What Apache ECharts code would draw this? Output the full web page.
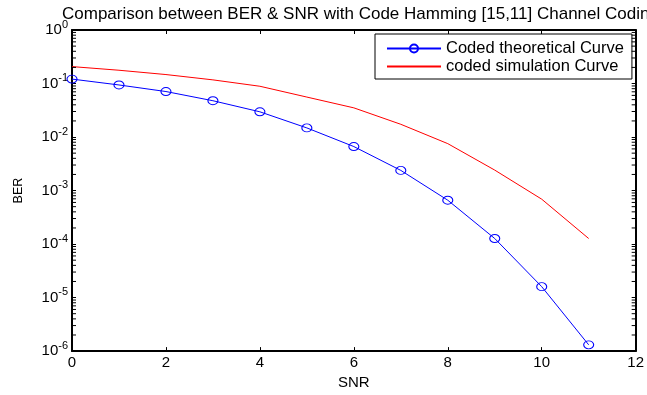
<!DOCTYPE html>
<html><head><meta charset="utf-8">
<script src="https://cdn.jsdelivr.net/npm/echarts@6/dist/echarts.min.js"></script>
<style>html,body{margin:0;padding:0;background:#fff}#c{width:647px;height:395px}</style>
</head><body><div id="c"></div>
<script>
const snr = [0, 1, 2, 3, 4, 5, 6, 7, 8, 9, 10, 11];
const berTheoretical = [0.121, 0.094, 0.0708, 0.0477, 0.0296, 0.0148, 0.00664, 0.00238, 0.00066, 0.000127, 0.000016, 0.00000131];
const berSimulation = [0.207, 0.177, 0.147, 0.117, 0.0889, 0.0558, 0.0351, 0.0173, 0.00753, 0.00241, 0.00069, 0.000127];
const xTickValues = [0, 2, 4, 6, 8, 10, 12];
const yDecadeExponents = [0, -1, -2, -3, -4, -5, -6];
const minorMantissas = [2, 3, 4, 5, 6, 7, 8, 9];
const seriesNames = ['Coded theoretical Curve', 'coded simulation Curve'];
const titleText = 'Comparison between BER & SNR with Code Hamming [15,11] Channel Coding';

const FONT = '"Liberation Sans", Arial, Helvetica, sans-serif';
const minorTicks = [];
yDecadeExponents.slice(1).forEach(e => minorMantissas.forEach(m => minorTicks.push([0, m * Math.pow(10, e)])));

const chart = echarts.init(document.getElementById('c'), null, {renderer: 'canvas'});

const yLabel = {
  margin: 4,
  color: '#000',
  fontFamily: FONT,
  formatter: v => '{b|10}{s|' + Math.round(Math.log10(v)) + '}',
  rich: {
    b: {fontSize: 15, lineHeight: 22, color: '#000', fontFamily: FONT},
    s: {fontSize: 11, lineHeight: 11, verticalAlign: 'top', color: '#000', fontFamily: FONT}
  }
};

function common() {
  return {
    axisLine: {show: true, onZero: false, lineStyle: {color: '#000', width: 2}},
    axisTick: {show: true, inside: true, length: 4, lineStyle: {color: '#000', width: 1}},
    splitLine: {show: false},
    minorTick: {show: false}
  };
}

chart.setOption({
  animation: false,
  backgroundColor: '#fff',
  title: {
    text: titleText, left: 62, top: 6, padding: 0,
    textStyle: {fontSize: 17, fontWeight: 'normal', color: '#000', fontFamily: FONT}
  },
  legend: {
    data: seriesNames, orient: 'vertical', left: 375, top: 34,
    itemWidth: 54, itemHeight: 10, itemGap: 1,
    padding: [6, 8, 4, 11],
    borderColor: '#000', borderWidth: 1, backgroundColor: '#fff',
    selectedMode: false,
    textStyle: {fontSize: 16.5, color: '#000', fontFamily: FONT}
  },
  grid: {left: 72, right: 8, top: 30, bottom: 38, containLabel: false},
  xAxis: [
    Object.assign(common(), {
      type: 'value', min: 0, max: 12, interval: 2, position: 'bottom',
      name: 'SNR', nameLocation: 'middle', nameGap: 19,
      nameTextStyle: {fontSize: 15, color: '#000', fontFamily: FONT},
      axisLabel: {margin: 4, fontSize: 15, color: '#000', fontFamily: FONT,
        formatter: v => xTickValues.indexOf(v) >= 0 ? String(v) : ''}
    }),
    Object.assign(common(), {
      type: 'value', min: 0, max: 12, interval: 2, position: 'top',
      axisLabel: {show: false}
    })
  ],
  yAxis: [
    Object.assign(common(), {
      type: 'log', logBase: 10, min: 1e-6, max: 1, splitNumber: 6, position: 'left',
      name: 'BER', nameLocation: 'middle', nameGap: 47,
      nameTextStyle: {fontSize: 12.5, color: '#000', fontFamily: FONT},
      axisLabel: yLabel
    }),
    Object.assign(common(), {
      type: 'log', logBase: 10, min: 1e-6, max: 1, splitNumber: 6, position: 'right',
      axisLabel: {show: false}
    })
  ],
  series: [
    {
      name: seriesNames[0], type: 'line', xAxisIndex: 0, yAxisIndex: 0,
      data: snr.map((x, i) => [x, berTheoretical[i]]),
      symbol: 'circle', symbolSize: [10, 8], showAllSymbol: true,
      itemStyle: {color: 'rgba(0,0,0,0)', borderColor: '#0000ff', borderWidth: 1},
      lineStyle: {color: '#0000ff', width: 1},
      emphasis: {disabled: true}, z: 3
    },
    {
      name: seriesNames[1], type: 'line', xAxisIndex: 0, yAxisIndex: 0,
      data: snr.map((x, i) => [x, berSimulation[i]]),
      symbol: 'none',
      itemStyle: {color: 'rgba(0,0,0,0)'},
      lineStyle: {color: '#ff0000', width: 1},
      emphasis: {disabled: true}, z: 2
    },
    {
      type: 'custom', xAxisIndex: 0, yAxisIndex: 0, silent: true, clip: false, z: 5,
      data: minorTicks,
      renderItem: function (params, api) {
        const v = api.value(1);
        const pl = api.coord([0, v]);
        const pr = api.coord([12, v]);
        const st = {stroke: '#000', lineWidth: 1};
        return {type: 'group', children: [
          {type: 'line', shape: {x1: pl[0], y1: pl[1], x2: pl[0] + 4, y2: pl[1]}, style: st},
          {type: 'line', shape: {x1: pr[0], y1: pr[1], x2: pr[0] - 4, y2: pr[1]}, style: st}
        ]};
      }
    }
  ]
});
</script>
</body></html>
